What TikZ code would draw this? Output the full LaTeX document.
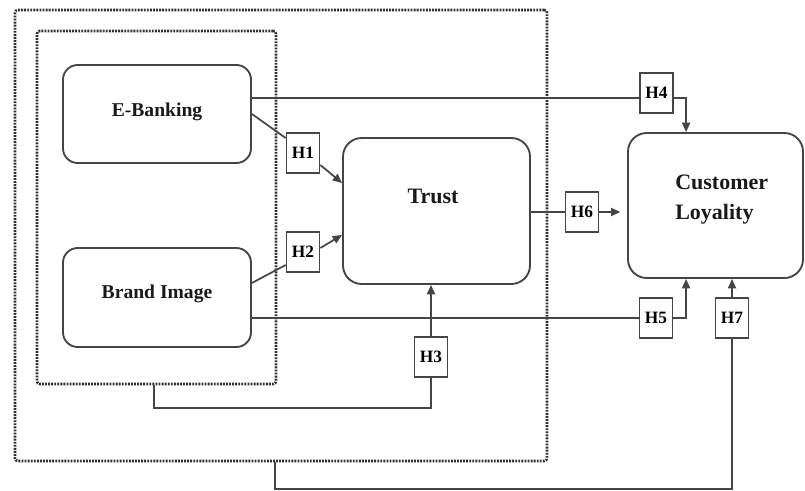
\documentclass[tikz,border=0pt]{standalone}
\usepackage{fontspec}
\setmainfont{Liberation Serif}
\usetikzlibrary{arrows.meta}
\definecolor{ln}{HTML}{454545}
\definecolor{dt}{HTML}{303030}
\begin{document}
\begin{tikzpicture}[x=0.75pt,y=-0.75pt,
  conbox/.style={draw=ln,line width=1.4pt,rounded corners=11pt,inner sep=0pt},
  hbox/.style={draw=ln,line width=1.3pt,minimum width=24.75pt,minimum height=30pt,inner sep=0pt,
     font=\fontsize{13}{15}\selectfont\bfseries},
  dotbox/.style={draw=dt,line width=1.9pt,dash pattern=on 1.4pt off 0.9pt,rounded corners=2pt},
  conn/.style={draw=ln,line width=1.3pt},
  arr/.style={conn,-{Triangle[length=7pt,width=6pt]}},
  lab/.style={text=black!90,font=\fontsize{14.7}{17}\selectfont\bfseries},
  biglab/.style={text=black!90,font=\fontsize{16.5}{22.5}\selectfont\bfseries}]
\useasboundingbox (0,0) rectangle (805,491);
% dotted groups
\node[dotbox,minimum width=399pt,minimum height=338.25pt] (outer) at (281,235.5) {};
\node[dotbox,minimum width=179.25pt,minimum height=264.75pt] (inner) at (156.5,207.5) {};
% constructs
\node[conbox,minimum width=141pt,minimum height=73.5pt] (EB) at (157,114) {};
\node[lab] (EBt) at (157,112) {E-Banking};
\node[conbox,minimum width=141pt,minimum height=74.25pt] (BI) at (157,297.5) {};
\node[lab] (BIt) at (157,294) {Brand Image};
\node[conbox,rounded corners=14pt,minimum width=140.25pt,minimum height=109.5pt] (TR) at (436.5,211) {};
\node[biglab] (TRt) at (433,196) {Trust};
\node[conbox,rounded corners=14pt,minimum width=131.25pt,minimum height=108.75pt] (CL) at (715.5,205.5) {};
\node[biglab,align=left,anchor=west,inner sep=0pt] (CLt) at (675,200) {Customer\\Loyality};
% hypothesis boxes
\node[hbox] (H1) at (303,153) {H1};
\node[hbox] (H2) at (303,252) {H2};
\node[hbox] (H3) at (431,357) {H3};
\node[hbox] (H4) at (656.5,93) {H4};
\node[hbox] (H5) at (656,318) {H5};
\node[hbox] (H6) at (582,212) {H6};
\node[hbox] (H7) at (732,318) {H7};
% connectors
\coordinate (eb4) at ([yshift=12pt]EB.east);
\draw[conn] (eb4) -- (eb4 -| H4.west);
\draw[arr] (H4.east |- eb4) -| ([xshift=44.25pt]CL.north west);
\draw[conn] (EB.east) -- ([yshift=11.25pt]H1.west);
\draw[arr] ([yshift=-9pt]H1.east) -- ([yshift=21pt]TR.west);
\draw[conn] ([yshift=10.9pt]BI.east) -- ([yshift=-9.75pt]H2.west);
\draw[arr] ([yshift=3pt]H2.east) -- ([yshift=-18pt]TR.west);
\coordinate (bi5) at ([yshift=-15.4pt]BI.east);
\draw[conn] (bi5) -- (bi5 -| H5.west);
\draw[arr] (H5.east) -| ([xshift=44.25pt]CL.south west);
\coordinate (k3) at (154,408);
\draw[conn] (inner.south -| k3) -- (k3) -| (H3.south);
\draw[arr] (H3.north) -- (H3.north |- TR.south);
\draw[conn] (TR.east |- H6.west) -- (H6.west);
\draw[arr] (H6.east) -- ([xshift=-5pt]CL.west |- H6.east);
\coordinate (k7) at (275,489);
\draw[conn] (outer.south -| k7) -- (k7) -| (H7.south);
\draw[arr] (H7.north) -- (H7.north |- CL.south);
\end{tikzpicture}
\end{document}
